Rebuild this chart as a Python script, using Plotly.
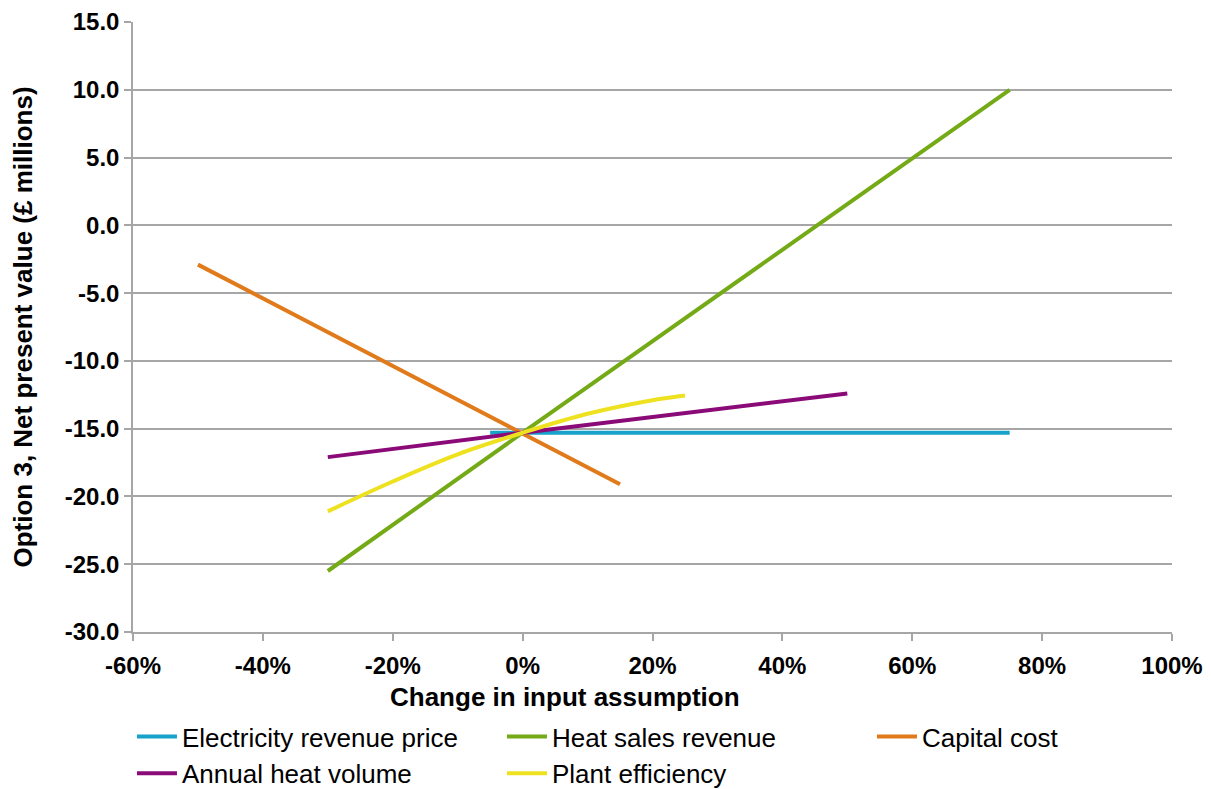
import plotly.graph_objects as go

# -- Datos (cambio relativo en la hipótesis -> VPN en £ millones) ---------
elec_x = [-0.05, 0.0, 0.25, 0.50, 0.75]
elec_y = [-15.3, -15.3, -15.3, -15.3, -15.3]

heat_sales_x = [-0.30, 0.0, 0.75]
heat_sales_y = [-25.5, -15.3, 10.0]

capital_x = [-0.50, 0.0, 0.15]
capital_y = [-2.9, -15.3, -19.1]

heat_volume_x = [-0.30, 0.0, 0.50]
heat_volume_y = [-17.1, -15.3, -12.4]

efficiency_x = [-0.30, -0.20, -0.10, 0.0, 0.10, 0.20, 0.25]
efficiency_y = [-21.1, -18.9, -16.9, -15.3, -13.9, -12.9, -12.55]

x_ticks = [-0.6, -0.4, -0.2, 0.0, 0.2, 0.4, 0.6, 0.8, 1.0]
y_ticks = [15, 10, 5, 0, -5, -10, -15, -20, -25, -30]

series = [
    ("Electricity revenue price", elec_x, elec_y, "#17A2C9", "linear"),
    ("Heat sales revenue", heat_sales_x, heat_sales_y, "#74AA16", "linear"),
    ("Capital cost", capital_x, capital_y, "#E07A1A", "linear"),
    ("Annual heat volume", heat_volume_x, heat_volume_y, "#8A0A78", "linear"),
    ("Plant efficiency", efficiency_x, efficiency_y, "#EDE120", "spline"),
]

FONT = "Liberation Sans, Arial, sans-serif"

fig = go.Figure()
for nombre, x, y, color, forma in series:
    fig.add_trace(go.Scatter(
        x=x, y=y, name=nombre, mode="lines",
        line=dict(color=color, width=4, shape=forma),
    ))

eje = dict(
    showline=True, linecolor="#A6A6A6", linewidth=1.5,
    ticks="outside", ticklen=7, tickcolor="#A6A6A6", tickwidth=1.5,
    tickfont=dict(family=FONT, size=24, color="black", weight="bold"),
    zeroline=False, automargin=False,
)

fig.update_xaxes(
    range=[-0.6, 1.0], tickmode="array", tickvals=x_ticks,
    ticktext=[f"{v * 100:.0f}%" for v in x_ticks],
    showgrid=False, ticklabelstandoff=4,
    **eje,
)
fig.update_yaxes(
    range=[-30, 15], tickmode="array", tickvals=y_ticks,
    ticktext=[f"{v:.1f}" for v in y_ticks],
    showgrid=True, gridcolor="#A6A6A6", gridwidth=1.5,
    title=dict(text="<b>Option 3, Net present value (£ millions)</b>", standoff=30,
               font=dict(family=FONT, size=26, color="black")),
    **eje,
)

# título del eje x como anotación (no está centrado en el gráfico)
fig.add_annotation(
    text="<b>Change in input assumption</b>", xref="paper", yref="paper",
    x=0.416, y=-0.107, xanchor="center", yanchor="middle", showarrow=False,
    font=dict(family=FONT, size=26, color="black"),
)

# la página tiene 8px de margen en el body: el lienzo va de 8 a 1211
fig.update_layout(
    width=1203, height=781,
    margin=dict(l=125, r=39, t=14, b=157, autoexpand=False),
    plot_bgcolor="white", paper_bgcolor="white",
    font=dict(family=FONT, color="black"),
    legend=dict(
        orientation="h", x=-0.001, xanchor="left", y=-0.133, yanchor="top",
        entrywidth=315, entrywidthmode="pixels",
        font=dict(family=FONT, size=26, color="black"),
        tracegroupgap=0, itemwidth=40,
    ),
)

fig.write_html("out.html")
